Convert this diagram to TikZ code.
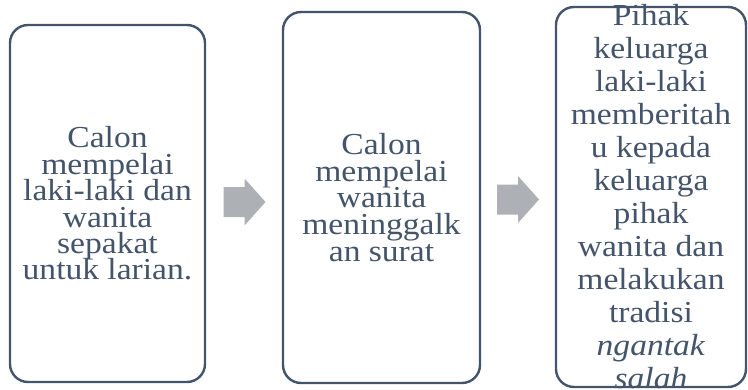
\documentclass[tikz,border=0pt]{standalone}
\usepackage{fontspec}
\setmainfont{Liberation Serif}[FakeStretch=1.1]
\usetikzlibrary{calc}
\definecolor{slate}{HTML}{44546A}
\definecolor{arrowgray}{HTML}{ADB0B5}
\tikzset{
  stagebox/.style={draw=slate, line width=2.4pt, rounded corners=18pt, fill=white,
    inner sep=0pt, outer sep=0pt},
  stagetext/.style={text=slate, align=center, inner sep=0pt},
  blockarrow/.pic={
    \fill[arrowgray] (-21,-15) -- (0,-15) -- (0,-23.5) -- (21,0)
      -- (0,23.5) -- (0,15) -- (-21,15) -- cycle;
  }
}
% fixed line pitch, even when lines carry tall ascenders and descenders
\newcommand{\stagefont}[2]{\fontsize{#1}{#2}\selectfont\lineskiplimit=-100pt\lineskip=0pt}
\begin{document}
\begin{tikzpicture}[x=1pt,y=-1pt]
  \useasboundingbox (0,0) rectangle (748,389);
  % three stage boxes
  \node[stagebox, minimum width=195pt, minimum height=357pt] (b1) at (107.5,203.5) {};
  \node[stagebox, minimum width=197pt, minimum height=371pt] (b2) at (381.5,197.5) {};
  \node[stagebox, minimum width=190pt, minimum height=380pt] (b3) at (651,197) {};
  % texts
  \node[stagetext, font=\stagefont{30.5}{26.4}] (t1) at (b1.center)
    {Calon\\mempelai\\laki-laki dan\\wanita\\sepakat\\untuk larian.};
  \node[stagetext, font=\stagefont{30.5}{26.6}] (t2) at (b2.center)
    {Calon\\mempelai\\wanita\\meninggalk\\an surat};
  \node[stagetext, font=\stagefont{30.5}{33}] (t3) at (b3.center)
    {Pihak\\keluarga\\laki-laki\\memberitah\\u kepada\\keluarga\\pihak\\wanita dan\\melakukan\\tradisi\\\textit{ngantak}\\\textit{salah}};
  % block arrows between the stages
  \coordinate (m1) at (244.5,202);
  \coordinate (m2) at (518,199.5);
  \pic (a1) at (m1) {blockarrow};
  \pic (a2) at (m2) {blockarrow};
\end{tikzpicture}
\end{document}
